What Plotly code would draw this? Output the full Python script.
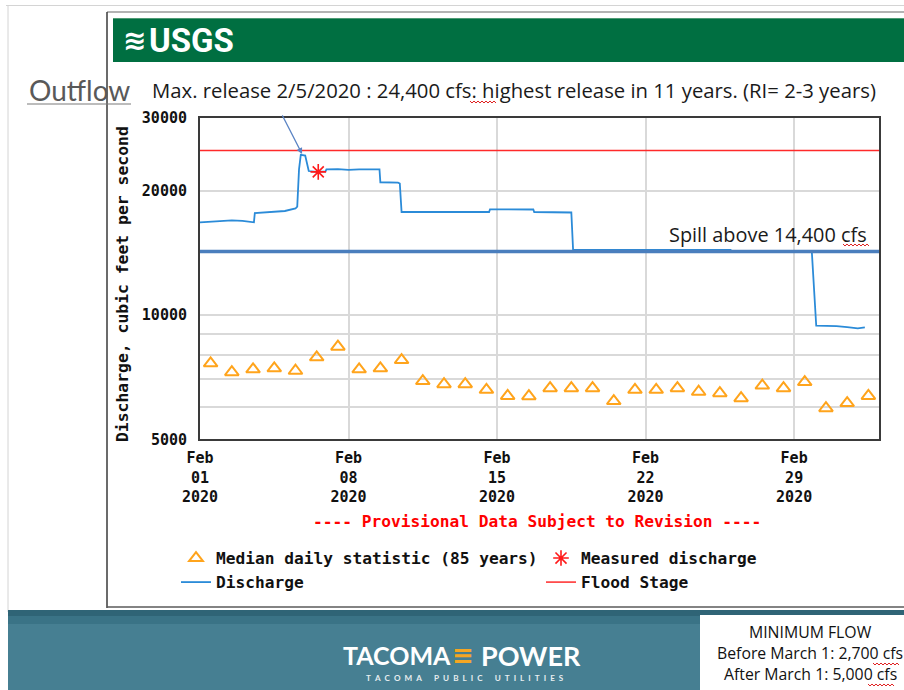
import math
import plotly.graph_objects as go

W, H = 904, 690

# ---------------- data ----------------
median_dates = [
    "2020-02-01 12:00", "2020-02-02 12:00", "2020-02-03 12:00", "2020-02-04 12:00",
    "2020-02-05 12:00", "2020-02-06 12:00", "2020-02-07 12:00", "2020-02-08 12:00",
    "2020-02-09 12:00", "2020-02-10 12:00", "2020-02-11 12:00", "2020-02-12 12:00",
    "2020-02-13 12:00", "2020-02-14 12:00", "2020-02-15 12:00", "2020-02-16 12:00",
    "2020-02-17 12:00", "2020-02-18 12:00", "2020-02-19 12:00", "2020-02-20 12:00",
    "2020-02-21 12:00", "2020-02-22 12:00", "2020-02-23 12:00", "2020-02-24 12:00",
    "2020-02-25 12:00", "2020-02-26 12:00", "2020-02-27 12:00", "2020-02-28 12:00",
    "2020-02-29 12:00", "2020-03-01 12:00", "2020-03-02 12:00", "2020-03-03 12:00",
]
median_cfs = [7640, 7270, 7390, 7430, 7330, 7900, 8380, 7390,
              7430, 7780, 6920, 6800, 6800, 6590, 6370, 6360,
              6650, 6650, 6650, 6190, 6590, 6590, 6650, 6520,
              6470, 6290, 6750, 6650, 6880, 5950, 6120, 6370]

discharge_times = [
    "2020-02-01 00:00", "2020-02-01 12:00", "2020-02-02 00:00", "2020-02-02 12:00",
    "2020-02-03 00:00", "2020-02-03 12:00", "2020-02-03 13:00", "2020-02-03 14:00",
    "2020-02-04 00:00", "2020-02-04 06:00", "2020-02-05 00:00", "2020-02-05 12:00",
    "2020-02-05 14:00", "2020-02-05 16:00", "2020-02-05 18:00", "2020-02-05 23:00",
    "2020-02-06 03:00", "2020-02-06 12:00", "2020-02-06 22:00", "2020-02-06 23:00",
    "2020-02-07 12:00", "2020-02-08 00:00", "2020-02-08 12:00", "2020-02-09 11:00",
    "2020-02-09 12:00", "2020-02-10 08:00", "2020-02-10 10:00", "2020-02-10 12:00",
    "2020-02-14 15:00", "2020-02-14 16:00", "2020-02-16 17:00", "2020-02-16 18:00",
    "2020-02-18 12:00", "2020-02-18 14:00", "2020-02-26 00:00", "2020-02-26 02:00",
    "2020-02-29 20:00", "2020-03-01 01:00", "2020-03-02 00:00", "2020-03-02 12:00",
    "2020-03-03 00:00", "2020-03-03 08:00",
]
discharge_cfs = [16750, 16800, 16880, 16950,
                 16900, 16760, 16760, 17650,
                 17700, 17750, 17850, 18100,
                 18300, 22500, 24400, 24300,
                 22300, 22200, 22250, 22500,
                 22550, 22450, 22520, 22520,
                 20950, 20900, 20800, 17750,
                 17750, 18020, 18000, 17750,
                 17700, 14380, 14380, 14250,
                 14250, 9420, 9400, 9350,
                 9280, 9330]

measured_time = ["2020-02-06 13:45"]
measured_cfs = [22200]

flood_stage_cfs = 25000
spill_cfs = 14250

x_start, x_end = "2020-02-01", "2020-03-04"
xtick_dates = ["2020-02-01", "2020-02-08", "2020-02-15", "2020-02-22", "2020-02-29"]
xtick_labels = ["Feb<br>01<br>2020", "Feb<br>08<br>2020", "Feb<br>15<br>2020",
                "Feb<br>22<br>2020", "Feb<br>29<br>2020"]
ytick_vals = [5000, 10000, 20000, 30000]
ytick_labels = ["5000", "10000", "20000", "30000"]
yminor_vals = [6000, 7000, 8000, 9000]

peak_time = "2020-02-05 20:00"
peak_cfs = 24400


def px(x):
    return x / W


def py(y):
    return 1 - y / H


MONO = "DejaVu Sans Mono"
LATO = "Lato, sans-serif"
OPEN = "Open Sans, sans-serif"

fig = go.Figure()

fig.add_trace(go.Scatter(
    x=[x_start, x_end], y=[flood_stage_cfs, flood_stage_cfs], mode="lines",
    line=dict(color="#ff2a2a", width=1.5), name="Flood Stage", legendrank=4,
    hoverinfo="skip"))
fig.add_trace(go.Scatter(
    x=discharge_times, y=discharge_cfs, mode="lines",
    line=dict(color="#2b8bd8", width=1.8), name="Discharge", legendrank=3))
fig.add_trace(go.Scatter(
    x=[x_start, x_end], y=[spill_cfs, spill_cfs], mode="lines",
    line=dict(color="#4a7ebd", width=3.5), showlegend=False, hoverinfo="skip"))
fig.add_trace(go.Scatter(
    x=median_dates, y=median_cfs, mode="markers",
    marker=dict(symbol="triangle-up-open", size=12, color="#ffa41c",
                line=dict(color="#ffa41c", width=2)),
    name="Median daily statistic (85 years)", legendrank=1))
fig.add_trace(go.Scatter(
    x=measured_time, y=measured_cfs, mode="markers",
    marker=dict(symbol="asterisk-open", size=13, color="#ff1a1a",
                line=dict(color="#ff1a1a", width=1.6)),
    name="Measured discharge", legendrank=2))

# ---------------- shapes (slide decoration) ----------------
shapes = []


def rect(x0, y0, x1, y1, fill, line=None, layer="below"):
    shapes.append(dict(type="rect", xref="paper", yref="paper",
                       x0=px(x0), x1=px(x1), y0=py(y1), y1=py(y0),
                       fillcolor=fill, line=dict(width=0) if line is None else line,
                       layer=layer))


def hline(x0, x1, y, color, width=1, layer="below"):
    shapes.append(dict(type="line", xref="paper", yref="paper",
                       x0=px(x0), x1=px(x1), y0=py(y), y1=py(y),
                       line=dict(color=color, width=width), layer=layer))


def vline(x, y0, y1, color, width=1, layer="below"):
    shapes.append(dict(type="line", xref="paper", yref="paper",
                       x0=px(x), x1=px(x), y0=py(y0), y1=py(y1),
                       line=dict(color=color, width=width), layer=layer))


def squiggle(x0, x1, y):
    pts = []
    x = x0
    up = True
    while x <= x1:
        pts.append((x, y - 1 if up else y + 1))
        x += 2
        up = not up
    path = "M " + " L ".join(f"{px(a):.5f},{py(b):.5f}" for a, b in pts)
    shapes.append(dict(type="path", xref="paper", yref="paper", path=path,
                       line=dict(color="#e02020", width=1), layer="above"))


# slide border
hline(6, 904, 5.5, "#d4d4d4")
vline(8, 5, 612, "#d4d4d4")
# USGS screenshot frame
hline(107, 904, 12, "#9a9a9a", 1.5)
vline(107, 12, 608, "#3a3a3a", 1.5)
hline(107, 904, 607, "#5a5a5a", 1.5)
rect(113, 18, 904, 62, "#006f41")
hline(113, 904, 18.5, "#4f9a74", 1)
# bottom band
rect(8, 610, 904, 690, "#467f92")
rect(8, 610, 904, 616, "#2f6476")
rect(8, 616, 904, 624, "#3a7386")
rect(700, 615, 904, 690, "#ffffff")
# underline of "Outflow"
hline(27, 131, 104, "#7a7a7a", 1.2)
# spell-check squiggles
squiggle(470, 496, 102)
squiggle(843, 869, 245)
squiggle(873, 899, 664)
squiggle(868, 894, 685)

# ---------------- annotations ----------------
ann = []


def text(x, y, s, size, color="#1a1a1a", family=LATO, xanchor="center",
         yanchor="middle", weight="normal", angle=0):
    ann.append(dict(x=px(x), y=py(y), xref="paper", yref="paper", text=s,
                    showarrow=False, xanchor=xanchor, yanchor=yanchor,
                    textangle=angle,
                    font=dict(family=family, size=size, color=color, weight=weight)))


text(121, 40, "≋", 28, "#ffffff", "DejaVu Sans", "left", weight="bold")
text(147, 41, "USGS", 33, "#ffffff", "Liberation Sans Narrow, Roboto", "left", weight="bold")
text(27, 90, "Outflow", 28, "#595959", LATO, "left")
text(150, 90, "Max. release 2/5/2020 : 24,400 cfs: highest release in 11 years. (RI= 2-3 years)",
     20.3, "#1a1a1a", OPEN, "left")
text(869, 234, "Spill above 14,400 cfs", 19.9, "#1a1a1a", OPEN, "right")
text(123, 284, "Discharge, cubic feet per second", 16.4, "#111111", MONO,
     weight="bold", angle=-90)
text(537, 521, "---- Provisional Data Subject to Revision ----", 16.2, "#ff0000", MONO,
     weight="bold")
text(397, 655, "TACOMA", 25, "#ffffff", LATO, weight="bold")
text(463, 655, "≡", 26, "#f5a623", "DejaVu Sans", weight="bold")
text(531, 655, "POWER", 27, "#ffffff", LATO, weight="bold")
sub = "\u2002\u2002\u2002".join("\u2002".join(w) for w in ["TACOMA", "PUBLIC", "UTILITIES"])
text(465, 678, sub, 8.1, "#e8eef0", LATO, weight="bold")
text(810, 632, "MINIMUM FLOW", 15.8, "#111111", OPEN)
text(810, 653, "Before March 1: 2,700 cfs", 15.8, "#111111", OPEN)
text(810, 674, "After March 1: 5,000 cfs", 15.8, "#111111", OPEN)

# arrow pointing to the peak
ann.append(dict(x=peak_time, y=math.log10(peak_cfs), xref="x", yref="y",
                text="", showarrow=True, ax=-21, ay=-41, axref="pixel", ayref="pixel",
                arrowhead=2, arrowsize=1, arrowwidth=1.2, arrowcolor="#5b84c4",
                standoff=1))

fig.update_layout(
    width=W, height=H, margin=dict(l=0, r=0, t=0, b=0, autoexpand=False),
    paper_bgcolor="#ffffff", plot_bgcolor="#ffffff",
    shapes=shapes, annotations=ann,
    hovermode=False,
    legend=dict(orientation="h", x=px(176), y=py(541), xanchor="left", yanchor="top",
                entrywidth=320, entrywidthmode="pixels", itemwidth=30,
                bgcolor="rgba(0,0,0,0)",
                font=dict(family=MONO, size=16.2, color="#111111", weight="bold"),
                traceorder="normal"),
    xaxis=dict(domain=[px(200), px(879)], type="date", range=[x_start, x_end],
               tickmode="array", tickvals=xtick_dates, ticktext=xtick_labels,
               showgrid=True, gridcolor="#d9d9d9", gridwidth=2,
               showline=True, mirror=True, linecolor="#3a3a3a", linewidth=2,
               ticks="", ticklabelstandoff=4, zeroline=False,
               tickfont=dict(family=MONO, size=15, color="#111111", weight="bold")),
    yaxis=dict(domain=[py(439.4), py(117.8)], type="log",
               range=[math.log10(5000), math.log10(30000)],
               tickmode="array", tickvals=ytick_vals, ticktext=ytick_labels,
               showgrid=True, gridcolor="#d9d9d9", gridwidth=2,
               minor=dict(tickmode="array", tickvals=yminor_vals, showgrid=True,
                          gridcolor="#d9d9d9", gridwidth=2, ticks=""),
               showline=True, mirror=True, linecolor="#3a3a3a", linewidth=2,
               ticks="", ticklabelstandoff=8, zeroline=False,
               tickfont=dict(family=MONO, size=15, color="#111111", weight="bold")),
)

# remove the default page margin so the 904x690 figure fills the window
fig.write_html("out.html",
               config={"displayModeBar": False, "staticPlot": False},
               post_script="document.body.style.margin='0';"
                           "document.body.style.overflow='hidden';")
